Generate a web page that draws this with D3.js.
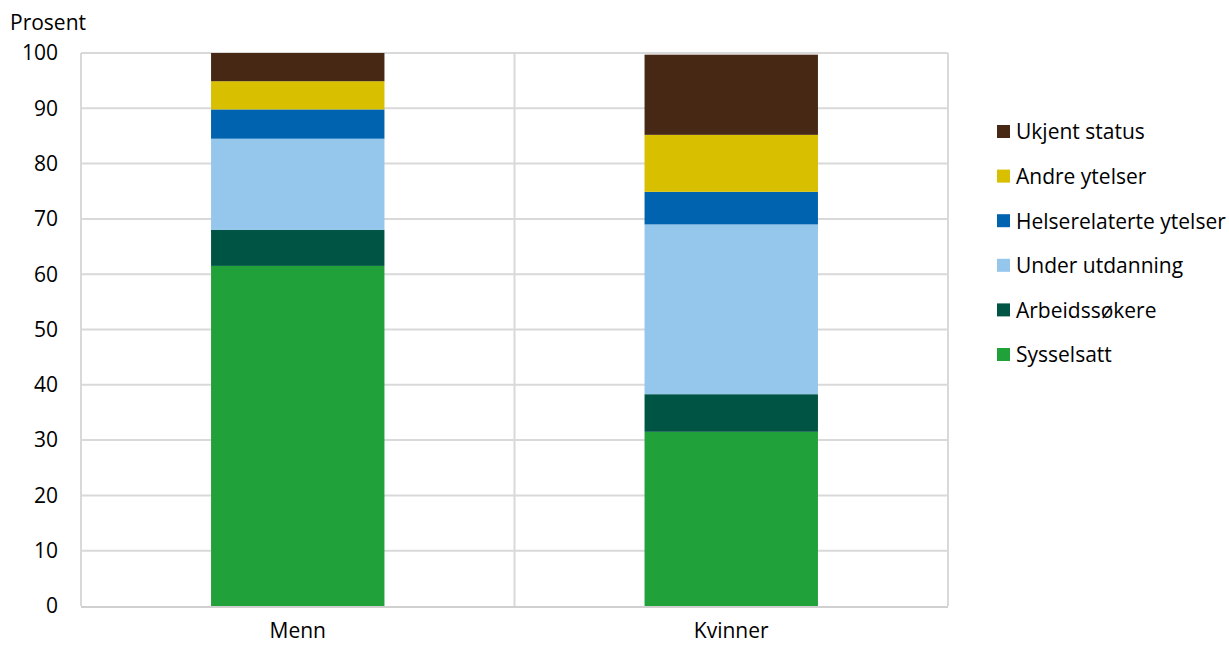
<!DOCTYPE html>
<html>
<head>
<meta charset="utf-8">
<script src="https://cdn.jsdelivr.net/npm/d3@7"></script>
<style>
  body { margin: 0; background: #fff; }
  svg { font-family: 'Open Sans', 'Noto Sans', sans-serif; }
</style>
</head>
<body>
<svg id="chart" width="1229" height="645"></svg>
<script>
// categories and series, bottom to top
const groups = ['Menn', 'Kvinner'];
const seriesNames = ['Sysselsatt', 'Arbeidssøkere', 'Under utdanning', 'Helserelaterte ytelser', 'Andre ytelser', 'Ukjent status'];
const seriesColors = ['#21a13a', '#005444', '#95c6ec', '#0063af', '#d8bf00', '#472815'];
const menn = [61.5, 6.5, 16.5, 5.3, 5.1, 5.1];
const kvinner = [31.5, 6.8, 30.7, 5.9, 10.3, 14.5];
const yTicks = [0, 10, 20, 30, 40, 50, 60, 70, 80, 90, 100];

const svg = d3.select('#chart');
const plotLeft = 81, plotRight = 948, plotTop = 53, plotBottom = 606;

const x = d3.scaleBand().domain(groups).range([plotLeft, plotRight]).paddingInner(0.6).paddingOuter(0.3);
const y = d3.scaleLinear().domain([0, 100]).range([plotBottom, plotTop]);

// table for the stack
const rows = groups.map((g, gi) => {
  const vals = gi === 0 ? menn : kvinner;
  const r = { group: g };
  seriesNames.forEach((s, i) => r[s] = vals[i]);
  return r;
});
const stacked = d3.stack().keys(seriesNames)(rows);
const color = d3.scaleOrdinal(seriesNames, seriesColors);

// gridlines
svg.append('g').selectAll('line')
  .data(yTicks.filter(t => t > 0))
  .enter().append('line')
    .attr('x1', plotLeft).attr('x2', plotRight)
    .attr('y1', d => y(d)).attr('y2', d => y(d))
    .attr('stroke', '#d9d9d9').attr('stroke-width', 2);

// vertical category separators
const seps = [plotLeft, (x('Menn') + x.bandwidth() + x('Kvinner')) / 2, plotRight];
svg.append('g').selectAll('line')
  .data(seps)
  .enter().append('line')
    .attr('x1', d => d).attr('x2', d => d)
    .attr('y1', plotTop).attr('y2', plotBottom)
    .attr('stroke', '#d9d9d9').attr('stroke-width', 2);

// bars
svg.append('g').selectAll('g')
  .data(stacked)
  .enter().append('g')
    .attr('fill', d => color(d.key))
  .selectAll('rect')
  .data(d => d)
  .enter().append('rect')
    .attr('x', d => x(d.data.group))
    .attr('width', x.bandwidth())
    .attr('y', d => y(d[1]))
    .attr('height', d => y(d[0]) - y(d[1]));

// bottom axis line
svg.append('line')
  .attr('x1', plotLeft).attr('x2', plotRight)
  .attr('y1', plotBottom + 1).attr('y2', plotBottom + 1)
  .attr('stroke', '#d0d0d0').attr('stroke-width', 2);

// y tick labels
svg.append('g').selectAll('text')
  .data(yTicks)
  .enter().append('text')
    .attr('x', 58)
    .attr('y', d => y(d))
    .attr('dy', '0.35em')
    .attr('text-anchor', 'end')
    .attr('font-size', '21px')
    .attr('fill', '#000')
    .text(d => d);

svg.append('text')
  .attr('x', 10).attr('y', 30)
  .attr('font-size', '21px')
  .text('Prosent');

// x labels
svg.append('g').selectAll('text')
  .data(groups)
  .enter().append('text')
    .attr('x', d => x(d) + x.bandwidth() / 2)
    .attr('y', 638)
    .attr('text-anchor', 'middle')
    .attr('font-size', '21px')
    .text(d => d);

// legend, top item is last series
const legendItems = seriesNames.slice().reverse();
const legend = svg.append('g').attr('transform', 'translate(997,132)');
legend.selectAll('rect')
  .data(legendItems)
  .enter().append('rect')
    .attr('x', 0).attr('y', (d, i) => i * 44.6 - 7)
    .attr('width', 13).attr('height', 13)
    .attr('fill', d => color(d));
legend.selectAll('text')
  .data(legendItems)
  .enter().append('text')
    .attr('x', 19).attr('y', (d, i) => i * 44.6)
    .attr('dy', '0.35em')
    .attr('font-size', '21px')
    .text(d => d);
</script>
</body>
</html>
